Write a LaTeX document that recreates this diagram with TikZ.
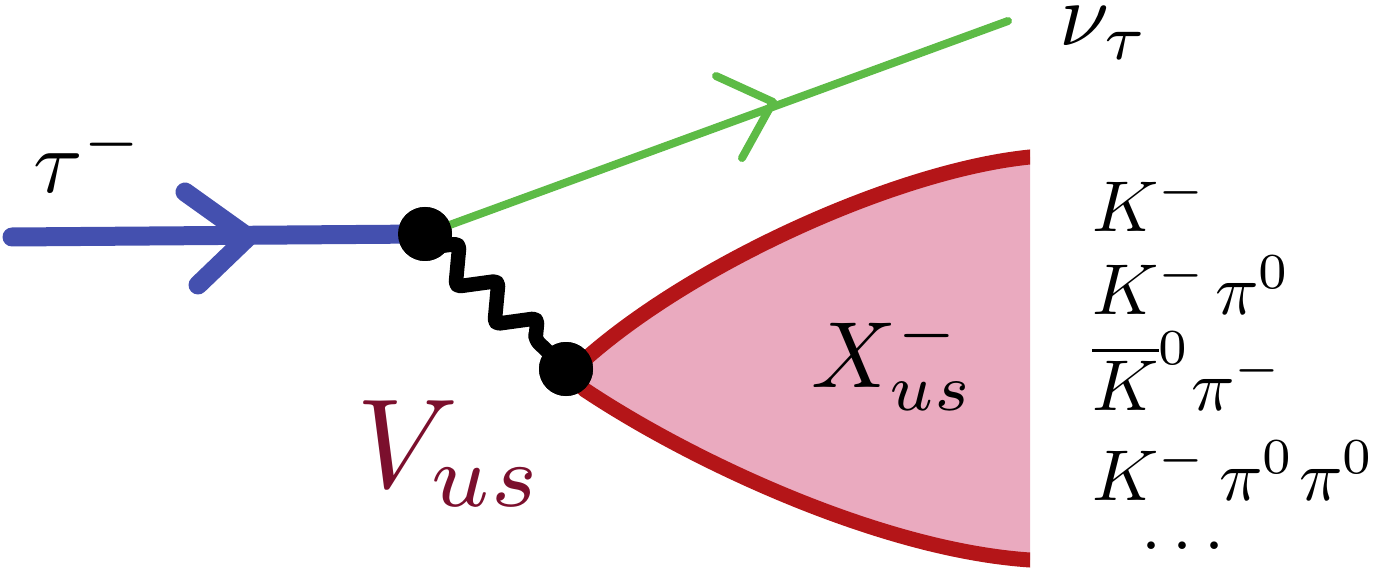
\RequirePackage{fix-cm}
\documentclass[tikz,border=0pt]{standalone}
\usetikzlibrary{decorations.pathmorphing}
\definecolor{fblue}{RGB}{68,80,175}
\definecolor{fgreen}{RGB}{93,187,70}
\definecolor{fred}{RGB}{180,21,24}
\definecolor{fpink}{RGB}{234,170,191}
\definecolor{vcol}{RGB}{123,15,45}
\tikzset{
  blob/.style={circle,fill=black,inner sep=0pt,minimum size=54pt},
  tauline/.style={draw=fblue,line width=19pt,line cap=round},
  nuline/.style={draw=fgreen,line width=8pt,line cap=round},
  wline/.style={draw=black,line width=14.5pt,line join=round,line cap=round,rounded corners=5pt,
    decorate,decoration={zigzag,segment length=54pt,amplitude=17pt,pre length=18pt,post length=18pt}},
  bord/.style={draw=fred,line width=15pt},
  lbl/.style={inner sep=0pt,anchor=base west,transform shape,font=\fontsize{10}{12}\selectfont},
}
\begin{document}
\begin{tikzpicture}[x=1pt,y=-1pt]
\useasboundingbox (0,0) rectangle (1384,569);
% hadronic blob
\begin{scope}
  \clip (0,0) rectangle (1030,569);
  \fill[fpink] (566,369) -- (590,355) .. controls (700,260) and (900,170) .. (1030,157) -- (1060,157) -- (1060,560) -- (1030,560) .. controls (880,550) and (690,460) .. (585,390) -- cycle;
  \draw[bord] (575,368) -- (590,355) .. controls (700,260) and (900,170) .. (1030,157) -- (1060,155);
  \draw[bord] (575,380) -- (585,390) .. controls (690,460) and (880,550) .. (1030,560) -- (1060,561);
\end{scope}
% vertices
\node[blob] (v1) at (425,234) {};
\node[blob] (v2) at (566,369) {};
\coordinate (tin) at (12,237);
\coordinate (nuout) at (1008,21);
% lines
\draw[nuline] (v1.center) -- (nuout);
\draw[nuline,line join=round] (716,76) -- (773,102) -- (742,158);
\draw[tauline] (tin) -- (v1.center);
\draw[tauline,line join=round] (185,192) -- (248,237) -- (198,285);
\draw[wline] (v1.center) -- (v2.center);
\node[blob] at (v1) {};
\node[blob] at (v2) {};
% label positions
\coordinate (ptau) at (32,193);
\coordinate (pnu) at (1058,46);
\coordinate (pX) at (810,387);
\coordinate (pV) at (354,487);
\coordinate (p1) at (1091,232);
\coordinate (p2) at (1091,315);
\coordinate (p3) at (1091,410);
\coordinate (p4) at (1091,500);
\coordinate (p5) at (1183,549);
% labels
\node[lbl,scale=9] (tau) at (ptau) {$\tau^-$};
\node[lbl,scale=9] (nu) at (pnu) {$\nu_\tau$};
\node[lbl,scale=9.4] (X) at (pX) {$X^-_{us}$};
\node[lbl,scale=12.7,text=vcol] (V) at (pV) {$V_{us}$};
\node[lbl,scale=7.2] (l1) at (p1) {$K^-$};
\node[lbl,scale=7.2] (l2) at (p2) {$K^-\mkern2mu\pi^0$};
\node[lbl,scale=7.2] (l3) at (p3) {$\overline{K}^0\pi^-$};
\node[lbl,scale=7.2] (l4) at (p4) {$K^-\mkern3mu\pi^0\mkern1mu\pi^0$};
\node[lbl,scale=7.2,anchor=base] (l5) at (p5) {$\ldots$};
\end{tikzpicture}
\end{document}
